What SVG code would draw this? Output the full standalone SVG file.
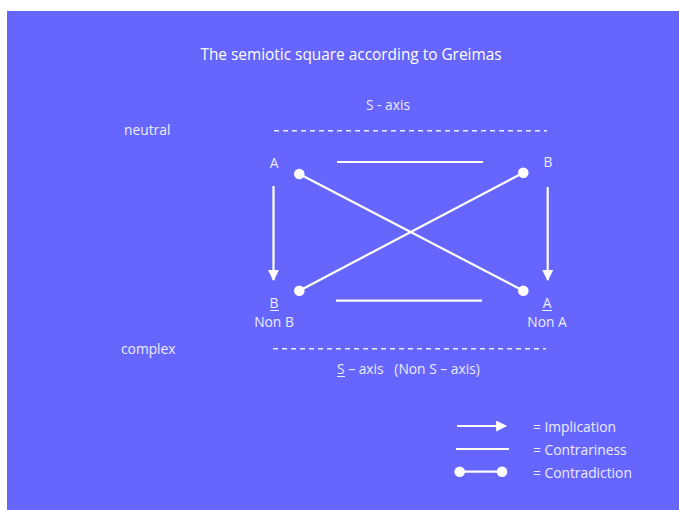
<svg xmlns="http://www.w3.org/2000/svg" width="679" height="510" viewBox="0 0 679 510">
<defs>
<style>
.t{font-family:"Open Sans","Noto Sans","DejaVu Sans",sans-serif;font-size:13.8px;fill:#ececff;white-space:pre}
.title{font-family:"Open Sans","Noto Sans","DejaVu Sans",sans-serif;font-size:15.4px;fill:#ffffff}
.ln{stroke:#ffffff;stroke-width:2.2;fill:none}
.dash{stroke:#ececff;stroke-width:1.6;stroke-dasharray:5 4;fill:none}
.ul{stroke:#ececff;stroke-width:1}
.dot{fill:#ffffff}
</style>
<marker id="arr" viewBox="0 0 10 10" refX="9" refY="5" markerWidth="5" markerHeight="5" markerUnits="strokeWidth" orient="auto">
<path d="M0,0 L10,5 L0,10 z" fill="#ffffff"/>
</marker>
</defs>
<rect x="7" y="11" width="672" height="499" fill="#6666ff"/>
<text class="title" x="351" y="60" text-anchor="middle">The semiotic square according to Greimas</text>
<g id="axis-labels">
<text class="t" x="388" y="110" text-anchor="middle">S - axis</text>
<text class="t" x="124" y="135">neutral</text>
<text class="t" x="121" y="354">complex</text>
<text class="t" x="337" y="374" xml:space="preserve">S – axis   (Non S – axis)</text>
<line class="ul" x1="337" y1="376.5" x2="345" y2="376.5"/>
<path class="dash" d="M274,130.7 H547"/>
<path class="dash" d="M273,348.7 H546"/>
</g>
<g id="node-A"><text class="t" x="274" y="168" text-anchor="middle">A</text></g>
<g id="node-B"><text class="t" x="548" y="167" text-anchor="middle">B</text></g>
<g id="node-nonB">
<text class="t" x="274" y="308" text-anchor="middle">B</text>
<line class="ul" x1="270" y1="310.5" x2="279" y2="310.5"/>
<text class="t" x="274" y="327" text-anchor="middle">Non B</text>
</g>
<g id="node-nonA">
<text class="t" x="547" y="308" text-anchor="middle">A</text>
<line class="ul" x1="542" y1="310.5" x2="552" y2="310.5"/>
<text class="t" x="547" y="327" text-anchor="middle">Non A</text>
</g>
<g id="connectors">
<line class="ln" x1="273.5" y1="186" x2="273.5" y2="280" marker-end="url(#arr)"/>
<line class="ln" x1="547.7" y1="187" x2="547.7" y2="280" marker-end="url(#arr)"/>
<line class="ln" x1="337" y1="162" x2="483" y2="162"/>
<line class="ln" x1="336" y1="300.7" x2="482" y2="300.7"/>
<line class="ln" x1="299.3" y1="174" x2="523.3" y2="290.7"/>
<circle class="dot" cx="299.3" cy="174" r="5.3"/>
<circle class="dot" cx="523.3" cy="290.7" r="5.3"/>
<line class="ln" x1="523.3" y1="172.7" x2="299.3" y2="290.7"/>
<circle class="dot" cx="523.3" cy="172.7" r="5.3"/>
<circle class="dot" cx="299.3" cy="290.7" r="5.3"/>
</g>
<g id="legend">
<line class="ln" x1="457" y1="426" x2="506" y2="426" marker-end="url(#arr)"/>
<text class="t" x="533" y="432">= Implication</text>
<line class="ln" x1="456" y1="449" x2="509" y2="449"/>
<text class="t" x="533" y="455">= Contrariness</text>
<line class="ln" x1="459.7" y1="471.7" x2="502" y2="471.7"/>
<circle class="dot" cx="459.7" cy="471.7" r="5.3"/>
<circle class="dot" cx="502" cy="471.7" r="5.3"/>
<text class="t" x="533" y="478">= Contradiction</text>
</g>
</svg>
